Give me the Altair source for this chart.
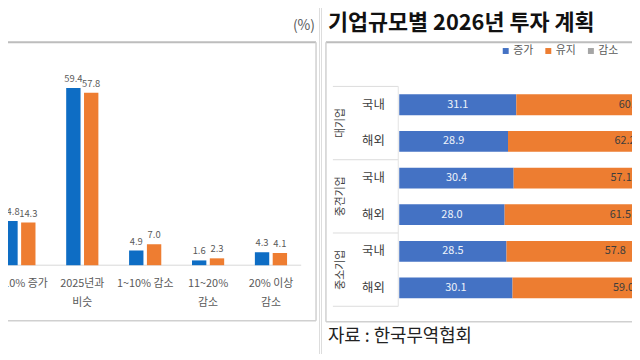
import altair as alt
import pandas as pd

FONT = "Noto Sans CJK KR"

# ---------------- data ----------------
left_categories = ["1~10% 증가", "2025년과 비슷", "1~10% 감소", "11~20% 감소", "20% 이상 감소"]
left_label_lines = [["1~10% 증가"], ["2025년과", "비슷"], ["1~10% 감소"], ["11~20%", "감소"], ["20% 이상", "감소"]]
left_series = ["국내", "해외"]
left_domestic = [14.8, 59.4, 4.9, 1.6, 4.3]
left_overseas = [14.3, 57.8, 7.0, 2.3, 4.1]

right_groups = ["대기업", "중견기업", "중소기업"]
right_rows = ["국내", "해외"]
right_series = ["증가", "유지", "감소"]
right_increase = [31.1, 28.9, 30.4, 28.0, 28.5, 30.1]
right_maintain = [60.0, 62.2, 57.1, 61.5, 57.8, 59.0]
right_decrease = [8.9, 8.9, 12.5, 10.5, 13.7, 10.9]

# ---------------- layout (pixels) ----------------
W_L, W_R, H = 320, 320, 360
L_FIRST, L_STEP = 17.5, 63.5      # first category centre, category step
L_BASE, L_PX = 265, 3.01          # baseline y, px per percent
L_OFF, L_HALF = 9.0, 7.25         # bar offset from centre, bar half width
R_X0, R_PX = 79, 3.8              # bar origin x (local), px per percent
R_ROW0, R_STEP, R_HALF = 103, 37, 10.5

# ---------------- left table ----------------
lrows = []
for i, cat in enumerate(left_categories):
    for s, vals, sign in ((left_series[0], left_domestic, -1), (left_series[1], left_overseas, 1)):
        c = i + sign * L_OFF / L_STEP
        lrows.append(dict(cat=cat, idx=i, series=s, value=vals[i], zero=0.0,
                          xc=c, x0=c - L_HALF / L_STEP, x1=c + L_HALF / L_STEP))
ldf = pd.DataFrame(lrows)
lab_df = pd.DataFrame({"idx": list(range(len(left_categories))), "lines": left_label_lines})
zero_df = pd.DataFrame({"y": [0.0]})

lx = alt.Scale(domain=[-L_FIRST / L_STEP, (W_L - L_FIRST) / L_STEP], nice=False, zero=False)
ly = alt.Scale(domain=[-(H - L_BASE) / L_PX, L_BASE / L_PX], nice=False, zero=False)

lbase = alt.Chart(ldf)
l_bars = lbase.mark_bar(clip=True).encode(
    x=alt.X("x0:Q", scale=lx, axis=None), x2="x1:Q",
    y=alt.Y("value:Q", scale=ly, axis=None), y2="zero:Q",
    color=alt.Color("series:N", scale=alt.Scale(domain=left_series, range=["#0E6DC4", "#EE7D31"]), legend=None),
)
l_vals = lbase.mark_text(clip=True, baseline="bottom", dy=-4, fontSize=9.5, color="#595959",
                         font=FONT).encode(
    x=alt.X("xc:Q", scale=lx, axis=None), y=alt.Y("value:Q", scale=ly, axis=None),
    text=alt.Text("value:Q", format=".1f"))
l_cats = alt.Chart(lab_df).mark_text(clip=True, baseline="top", fontSize=11, lineHeight=19,
                                     color="#595959", font=FONT).encode(
    x=alt.X("idx:Q", scale=lx, axis=None), y=alt.value(278), text="lines:N")
l_base_rule = alt.Chart(zero_df).mark_rule(color="#d9d9d9", strokeWidth=1).encode(
    y=alt.Y("y:Q", scale=ly, axis=None), x=alt.value(0), x2=alt.value(302))
l_box_top = alt.Chart(zero_df).mark_rule(color="#bdbdbd", strokeWidth=2).encode(
    x=alt.value(0), x2=alt.value(317), y=alt.value(40))
l_box_right = alt.Chart(zero_df).mark_rule(color="#d0d0d0", strokeWidth=1.5).encode(
    x=alt.value(317), y=alt.value(40), y2=alt.value(321))
l_box_bottom = alt.Chart(zero_df).mark_rule(color="#d0d0d0", strokeWidth=1.5).encode(
    x=alt.value(0), x2=alt.value(317), y=alt.value(321))
l_unit = alt.Chart(pd.DataFrame({"t": ["(%)"]})).mark_text(
    align="right", baseline="middle", fontSize=14, color="#595959", font=FONT).encode(
    x=alt.value(316), y=alt.value(24), text="t:N")

left = alt.layer(l_box_top, l_box_right, l_box_bottom, l_base_rule, l_bars, l_vals, l_cats,
                 l_unit).properties(width=W_L, height=H)

# ---------------- right table ----------------
rrows = []
k = 0
for g, grp in enumerate(right_groups):
    for r, rowname in enumerate(right_rows):
        start = 0.0
        for s, vals in zip(right_series, (right_increase, right_maintain, right_decrease)):
            v = vals[k]
            rrows.append(dict(group=grp, row=rowname, pos=k, series=s, value=v,
                              start=start, end=start + v, mid=start + v / 2,
                              y0=k - R_HALF / R_STEP, y1=k + R_HALF / R_STEP))
            start += v
        k += 1
rdf = pd.DataFrame(rrows)
row_df = pd.DataFrame({"pos": list(range(len(right_groups) * len(right_rows))),
                       "row": right_rows * len(right_groups)})
grp_df = pd.DataFrame({"pos": [2 * g + 0.5 for g in range(len(right_groups))], "group": right_groups})
sep_df = pd.DataFrame({"pos": [2 * g - 0.5 for g in range(len(right_groups) + 1)]})
vline_df = pd.DataFrame({"a": [-0.5], "b": [5.5]})

rx = alt.Scale(domain=[-R_X0 / R_PX, (W_R - R_X0) / R_PX], nice=False, zero=False)
ry = alt.Scale(domain=[-R_ROW0 / R_STEP, (H - R_ROW0) / R_STEP], nice=False, zero=False, reverse=True)

rbase = alt.Chart(rdf)
r_bars = rbase.mark_bar(clip=True).encode(
    x=alt.X("start:Q", scale=rx, axis=None), x2="end:Q",
    y=alt.Y("y0:Q", scale=ry, axis=None), y2="y1:Q",
    color=alt.Color("series:N", scale=alt.Scale(domain=right_series, range=["#4472C4", "#ED7D31", "#A5A5A5"]),
                    legend=alt.Legend(title=None, orient="none", direction="horizontal", legendX=181, legendY=43,
                                      symbolType="square", symbolSize=36, symbolStrokeWidth=0,
                                      labelFontSize=11, labelColor="#595959", labelFont=FONT,
                                      columnPadding=9, labelOffset=2)),
)
r_inc = rbase.transform_filter(alt.datum.series == right_series[0]).mark_text(
    fontSize=11, color="#EEF2FA", font=FONT).encode(
    x=alt.X("mid:Q", scale=rx, axis=None), y=alt.Y("pos:Q", scale=ry, axis=None),
    text=alt.Text("value:Q", format=".1f"))
r_main = rbase.transform_filter(alt.datum.series == right_series[1]).mark_text(
    fontSize=11, color="#3d3d3d", font=FONT, clip=True).encode(
    x=alt.X("mid:Q", scale=rx, axis=None), y=alt.Y("pos:Q", scale=ry, axis=None),
    text=alt.Text("value:Q", format=".1f"))
r_rowlab = alt.Chart(row_df).mark_text(fontSize=12.5, color="#404040", font=FONT).encode(
    x=alt.value(53), y=alt.Y("pos:Q", scale=ry, axis=None), text="row:N")
r_grplab = alt.Chart(grp_df).mark_text(fontSize=11, color="#404040", font=FONT, angle=270).encode(
    x=alt.value(20), y=alt.Y("pos:Q", scale=ry, axis=None), text="group:N")
r_seps = alt.Chart(sep_df).mark_rule(color="#dcdcdc", strokeWidth=1).encode(
    x=alt.value(12), x2=alt.value(78), y=alt.Y("pos:Q", scale=ry, axis=None))
r_vline = alt.Chart(vline_df).mark_rule(color="#e3e3e3", strokeWidth=1).encode(
    x=alt.value(78), y=alt.Y("a:Q", scale=ry, axis=None), y2="b:Q")
r_box_top = alt.Chart(vline_df).mark_rule(color="#bdbdbd", strokeWidth=2).encode(
    x=alt.value(5), x2=alt.value(W_R), y=alt.value(40))
r_box_left = alt.Chart(vline_df).mark_rule(color="#d0d0d0", strokeWidth=1.5).encode(
    x=alt.value(5), y=alt.value(40), y2=alt.value(322))
r_box_bottom = alt.Chart(vline_df).mark_rule(color="#d0d0d0", strokeWidth=1.5).encode(
    x=alt.value(5), x2=alt.value(W_R), y=alt.value(322))
r_title = alt.Chart(pd.DataFrame({"t": ["기업규모별 2026년 투자 계획"]})).mark_text(
    align="left", baseline="middle", fontSize=22, fontWeight="bold", color="#111111", font=FONT).encode(
    x=alt.value(7), y=alt.value(21), text="t:N")
r_source = alt.Chart(pd.DataFrame({"t": ["자료 : 한국무역협회"]})).mark_text(
    align="left", baseline="middle", fontSize=18, color="#222222", font=FONT).encode(
    x=alt.value(7), y=alt.value(338), text="t:N")

right = alt.layer(r_box_top, r_box_left, r_box_bottom, r_seps, r_vline, r_bars, r_inc, r_main,
                  r_rowlab, r_grplab, r_title, r_source).properties(width=W_R, height=H)

chart = alt.hconcat(left, right, spacing=0).resolve_scale(color="independent").properties(
    padding={"left": -8, "top": -8, "right": -8, "bottom": -8},
    background="white",
).configure_view(stroke=None).configure(font=FONT)

chart.save("out.html", embed_options={"renderer": "svg", "actions": False})
